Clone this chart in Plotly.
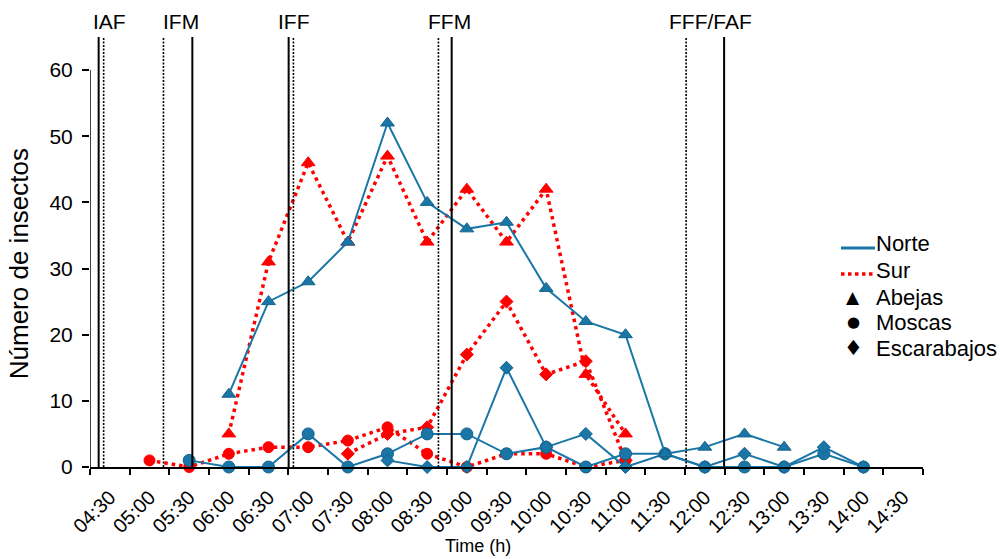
import plotly.graph_objects as go

# ---------------- data ----------------
categories = ["04:30", "05:00", "05:30", "06:00", "06:30", "07:00", "07:30", "08:00",
              "08:30", "09:00", "09:30", "10:00", "10:30", "11:00", "11:30", "12:00",
              "12:30", "13:00", "13:30", "14:00", "14:30"]

norte_abejas = [None, None, None, 11, 25, 28, 34, 52, 40, 36, 37, 27, 22, 20, 2, 3, 5, 3, None, None, None]
norte_moscas = [None, None, 1, 0, 0, 5, 0, 2, 5, 5, 2, 3, 0, 2, 2, 0, 0, 0, 2, 0, None]
norte_escarabajos = [None, None, None, None, None, None, None, 1, 0, 0, 15, 3, 5, 0, 2, 0, 2, 0, 3, 0, None]

sur_abejas = [None, None, None, 5, 31, 46, 34, 47, 34, 42, 34, 42, 14, 5, None, None, None, None, None, None, None]
sur_moscas = [None, 1, 0, 2, 3, 3, 4, 6, 2, 0, 2, 2, 0, 1, None, None, None, None, None, None, None]
sur_escarabajos = [None, None, None, None, None, None, 2, 5, 6, 17, 25, 14, 16, 1, None, None, None, None, None, None, None]

# event markers (time in hours) and line style
event_times = [4.359, 4.422, 5.176, 5.540, 6.754, 6.814, 8.642, 8.809, 11.764, 12.243]
event_styles = ["solid", "dot", "dot", "solid", "solid", "dot", "dot", "solid", "dot", "solid"]
event_labels = ["IAF", "IFM", "IFF", "FFM", "FFF/FAF"]
event_label_times = [4.49, 5.40, 6.82, 8.78, 12.07]

y_ticks = [0, 10, 20, 30, 40, 50, 60]

legend_lines = ["Norte", "Sur"]
legend_symbols = ["▲", "●", "♦"]
legend_symbol_names = ["Abejas", "Moscas", "Escarabajos"]

# ---------------- helpers ----------------
def to_hours(label):
    h, m = label.split(":")
    return int(h) + int(m) / 60.0

x_hours = [to_hours(c) for c in categories]

BLUE = "#1a76a6"
BLUE_EDGE = "#13628c"
RED = "#ff0000"
FONT = "Liberation Sans, Arial, sans-serif"
RED_DASH = "3.5px,4px"

fig = go.Figure()

def add_series(vals, color, edge, symbol, size, dash, width):
    fig.add_trace(go.Scatter(
        x=x_hours, y=vals, mode="lines+markers", showlegend=False,
        line=dict(color=color, width=width, dash=dash),
        marker=dict(symbol=symbol, size=size, color=color, line=dict(color=edge, width=1)),
        connectgaps=False, hoverinfo="skip", cliponaxis=False))

# Sur (red dotted) first, Norte on top
add_series(sur_moscas, RED, RED, "circle", 11, RED_DASH, 3.5)
add_series(sur_escarabajos, RED, RED, "diamond", 10, RED_DASH, 3.5)
add_series(sur_abejas, RED, RED, "triangle-up", 12, RED_DASH, 3.5)
add_series(norte_moscas, BLUE, BLUE_EDGE, "circle", 12, "solid", 2)
add_series(norte_escarabajos, BLUE, BLUE_EDGE, "diamond", 10, "solid", 2)
add_series(norte_abejas, BLUE, BLUE_EDGE, "triangle-up", 12, "solid", 2)

shapes = []
for t, st in zip(event_times, event_styles):
    shapes.append(dict(type="line", xref="x", yref="y", x0=t, x1=t, y0=0, y1=65,
                       line=dict(color="black", width=2 if st == "solid" else 1.6,
                                 dash="solid" if st == "solid" else "2px,1.5px"),
                       layer="above"))
# y axis line from 0 to 60 only
shapes.append(dict(type="line", xref="x", yref="y", x0=4.25, x1=4.25, y0=0, y1=60,
                   line=dict(color="black", width=1.5)))

# ---- legend (drawn in paper coordinates) ----
def px_x(p):
    return (p - 90) / 833.0

def px_y(p):
    return (467 - p) / 430.0

leg_line_y = [248, 274]
leg_line_styles = [dict(color=BLUE, width=3), dict(color=RED, width=3.5, dash="3.5px,3.5px")]
for yy, st in zip(leg_line_y, leg_line_styles):
    shapes.append(dict(type="line", xref="paper", yref="paper", x0=px_x(841), x1=px_x(875),
                       y0=px_y(yy), y1=px_y(yy), line=st))

annotations = []
leg_text_y = [243, 270]
for name, yy in zip(legend_lines, leg_text_y):
    annotations.append(dict(x=px_x(874), y=px_y(yy), xref="paper", yref="paper", text=name,
                            showarrow=False, xanchor="left", yanchor="middle",
                            font=dict(size=22, color="black", family=FONT)))
sym_y = [297, 322, 348]
sym_sizes = [17, 15, 21]
for sym, name, yy, ss in zip(legend_symbols, legend_symbol_names, sym_y, sym_sizes):
    annotations.append(dict(x=px_x(853), y=px_y(yy), xref="paper", yref="paper", text=sym,
                            showarrow=False, xanchor="center", yanchor="middle",
                            font=dict(size=ss, color="black", family="DejaVu Sans")))
    annotations.append(dict(x=px_x(874), y=px_y(yy), xref="paper", yref="paper", text=name,
                            showarrow=False, xanchor="left", yanchor="middle",
                            font=dict(size=22, color="black", family=FONT)))

for lab, t in zip(event_labels, event_label_times):
    annotations.append(dict(x=t, y=1.037, xref="x", yref="paper", text=lab, showarrow=False,
                            font=dict(size=21, color="black", family=FONT),
                            xanchor="center", yanchor="middle"))
annotations.append(dict(x=9.14, y=-0.184, xref="x", yref="paper", text="Time (h)", showarrow=False,
                        font=dict(size=18, color="black", family=FONT),
                        xanchor="center", yanchor="middle"))
annotations.append(dict(x=-0.085, y=0.472, xref="paper", yref="paper", text="Número de insectos",
                        showarrow=False, textangle=-90,
                        font=dict(size=26, color="black", family=FONT),
                        xanchor="center", yanchor="middle"))

fig.update_layout(
    width=1000, height=559,
    margin=dict(l=90, r=77, t=37, b=92),
    paper_bgcolor="white", plot_bgcolor="white",
    font=dict(family=FONT, color="black"),
    shapes=shapes, annotations=annotations,
    showlegend=False,
    xaxis=dict(range=[4.25, 14.75], showgrid=False, zeroline=False,
               tickmode="array", tickvals=x_hours, ticktext=categories,
               ticks="", tickangle=-45, ticklabelstandoff=9,
               tickfont=dict(size=20, family=FONT, color="black"),
               showline=True, linecolor="black", linewidth=1.5,
               minor=dict(tick0=4.25, dtick=0.5, ticks="outside", ticklen=6,
                          tickwidth=1.5, tickcolor="black", showgrid=False)),
    yaxis=dict(range=[0, 65], showgrid=False, zeroline=False,
               tickmode="array", tickvals=y_ticks, ticks="outside", ticklen=7,
               tickwidth=1.5, tickcolor="black", ticklabelstandoff=5,
               tickfont=dict(size=21, family=FONT, color="black"),
               showline=False),
)

fig.write_html("out.html", config={"displayModeBar": False},
               post_script="document.body.style.margin='0';")
